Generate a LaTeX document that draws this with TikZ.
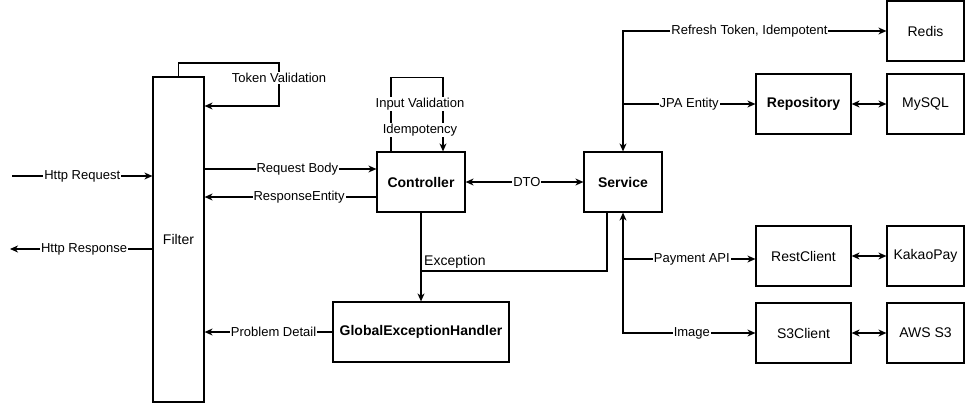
\documentclass[tikz,border=0pt]{standalone}
\usepackage{fontspec}
\setmainfont{Liberation Sans}
\usetikzlibrary{arrows.meta}
\begin{document}
\begin{tikzpicture}[x=1pt,y=-1pt,
  box/.style={draw,line width=1.2pt,inner sep=0pt,font=\fontsize{14}{16}\selectfont},
  bbox/.style={box,font=\fontsize{14}{16}\selectfont\bfseries},
  lbl/.style={fill=white,inner sep=1pt,font=\fontsize{13}{15}\selectfont},
  ln/.style={line width=1.2pt},
  conn/.style={ln,-{Stealth[length=8pt,width=7pt,inset=2.5pt]}},
  dconn/.style={ln,{Stealth[length=8pt,width=7pt,inset=2.5pt]}-{Stealth[length=8pt,width=7pt,inset=2.5pt]}}]
\useasboundingbox (0,0) rectangle (966,404);
% nodes
\node[box,minimum width=51pt,minimum height=325pt] (Filter) at (178.5,239.5) {Filter};
\node[bbox,minimum width=88pt,minimum height=60pt] (Controller) at (421,182) {Controller};
\node[bbox,minimum width=78pt,minimum height=60pt] (Service) at (623,182) {Service};
\node[bbox,minimum width=176pt,minimum height=60pt] (GEH) at (421,332) {GlobalExceptionHandler};
\node[box,minimum width=77pt,minimum height=60pt] (Redis) at (925.5,31) {Redis};
\node[bbox,minimum width=95pt,minimum height=60pt] (Repository) at (803.5,104) {Repository};
\node[box,minimum width=77pt,minimum height=60pt] (MySQL) at (925.5,104) {MySQL};
\node[box,minimum width=95pt,minimum height=60pt] (RestClient) at (803.5,256) {RestClient};
\node[box,minimum width=77pt,minimum height=60pt] (KakaoPay) at (925.5,256) {KakaoPay};
\node[box,minimum width=95pt,minimum height=60pt] (S3Client) at (803.5,333) {S3Client};
\node[box,minimum width=77pt,minimum height=60pt] (AWS) at (925.5,333) {AWS S3};
% free ends
\coordinate (hreq) at (12,176);
\coordinate (hres) at (10,249);
% Http
\draw[conn] (hreq) -- node[lbl]{Http Request} (hreq -| Filter.west);
\draw[conn] (hres -| Filter.west) -- node[lbl,pos=0.48]{Http Response} (hres);
% token validation loop
\draw[conn] (Filter.north) -- (178.5,63) -- (279,63) -- node[lbl,pos=0.35]{Token Validation} (279,106) -- (Filter.east |- 0,106);
% filter <-> controller
\draw[conn] (Filter.east |- 0,169) -- node[lbl,pos=0.54]{Request Body} (Controller.west |- 0,169);
\draw[conn] (Controller.west |- 0,197) -- node[lbl,pos=0.45]{ResponseEntity} (Filter.east |- 0,197);
% controller loop
\draw[conn] ([xshift=-30pt]Controller.north) -- ++(0,-74) -| ([xshift=22pt]Controller.north);
\node[lbl] (iv) at (420,104) {Input Validation};
\node[lbl] (idem) at (420,130) {Idempotency};
% DTO
\draw[dconn] (Controller.east) -- node[lbl,pos=0.52]{DTO} (Service.west);
% exception
\draw[conn] (Controller.south) -- (GEH.north);
\draw[ln] ([xshift=-16pt]Service.south) |- (Controller.south |- 0,271);
\node[anchor=south west,inner sep=1pt,font=\fontsize{14}{16}\selectfont] (exc) at (423,270) {Exception};
% problem detail
\draw[conn] (GEH.west) -- node[lbl,pos=0.46]{Problem Detail} (Filter.east |- GEH.west);
% service top bus
\draw[dconn] (Service.north) |- node[lbl,pos=0.74]{Refresh Token, Idempotent} (Redis.west);
\draw[conn] (Service.north |- Repository.west) -- node[lbl]{JPA Entity} (Repository.west);
\draw[dconn] (Repository.east) -- (MySQL.west);
% service bottom bus
\draw[dconn] (Service.south) |- node[lbl,pos=0.76]{Image} (S3Client.west);
\draw[conn] (Service.south |- 0,259) -- node[lbl,pos=0.52]{Payment API} (RestClient.west |- 0,259);
\draw[dconn] (RestClient.east) -- (KakaoPay.west);
\draw[dconn] (S3Client.east) -- (AWS.west);
\end{tikzpicture}
\end{document}
